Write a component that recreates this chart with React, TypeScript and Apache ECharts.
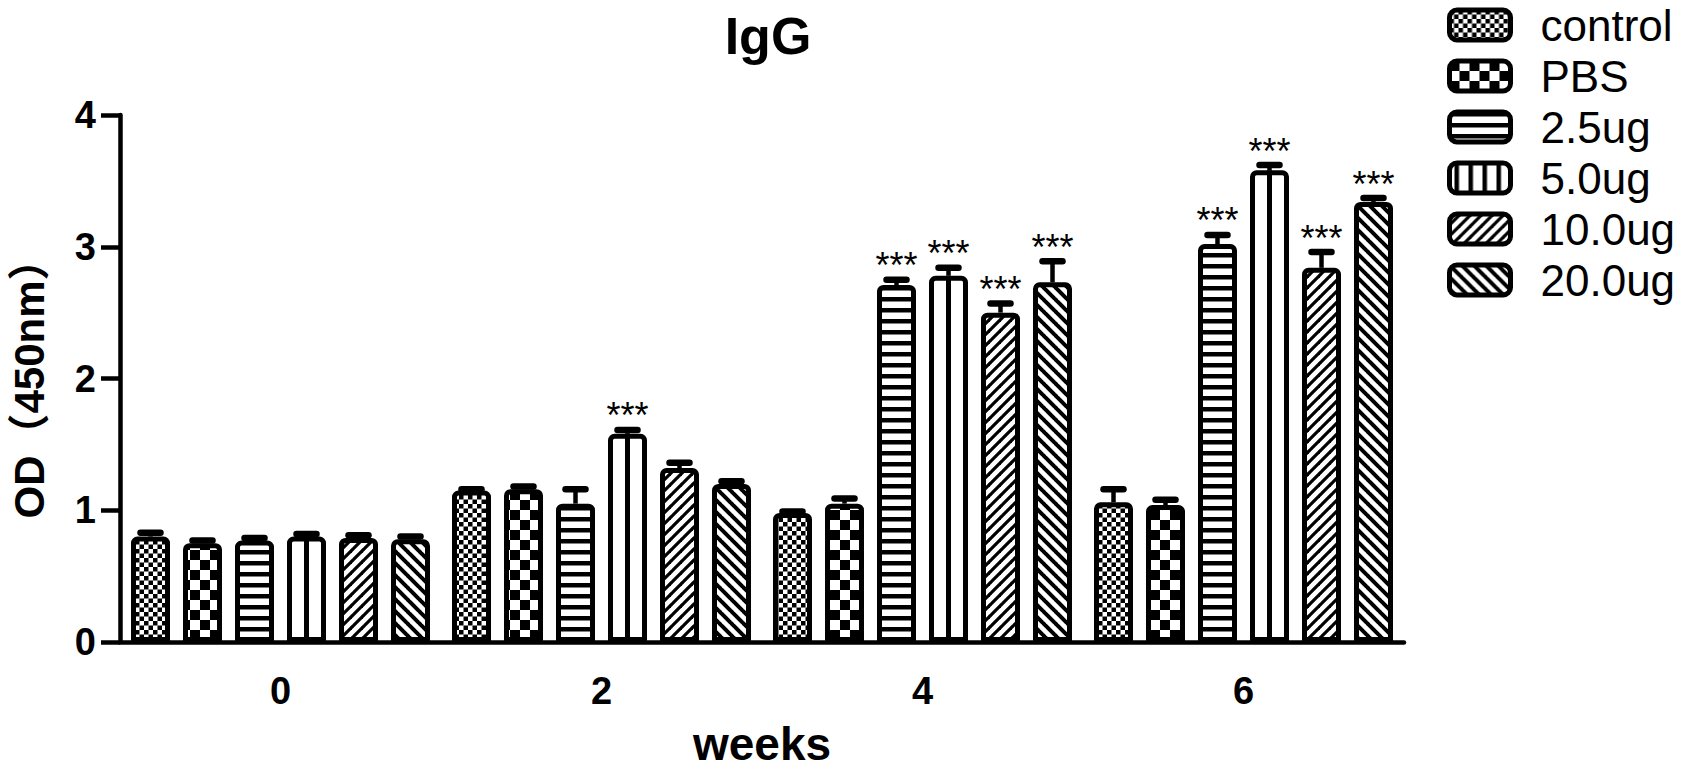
import React, { useEffect, useRef } from "react";
import * as echarts from "echarts";

const categories = ["0", "2", "4", "6"];
const seriesNames = ["control", "PBS", "2.5ug", "5.0ug", "10.0ug", "20.0ug"];
const controlVals = [0.8, 1.15, 0.98, 1.06];
const pbsVals = [0.75, 1.16, 1.05, 1.04];
const ug25Vals = [0.77, 1.05, 2.71, 3.02];
const ug50Vals = [0.8, 1.58, 2.78, 3.58];
const ug100Vals = [0.79, 1.32, 2.5, 2.84];
const ug200Vals = [0.78, 1.2, 2.73, 3.34];
const controlErr = [0.03, 0.01, 0.01, 0.1];
const pbsErr = [0.02, 0.02, 0.04, 0.04];
const ug25Err = [0.02, 0.11, 0.04, 0.07];
const ug50Err = [0.02, 0.03, 0.06, 0.04];
const ug100Err = [0.02, 0.04, 0.07, 0.12];
const ug200Err = [0.02, 0.02, 0.16, 0.03];
const ug25Stars = ["", "", "***", "***"];
const ug50Stars = ["", "***", "***", "***"];
const ug100Stars = ["", "", "***", "***"];
const ug200Stars = ["", "", "***", "***"];
const yTicks = [0, 1, 2, 3, 4];

const allVals = [controlVals, pbsVals, ug25Vals, ug50Vals, ug100Vals, ug200Vals];
const allErr = [controlErr, pbsErr, ug25Err, ug50Err, ug100Err, ug200Err];
const allStars = [["", "", "", ""], ["", "", "", ""], ug25Stars, ug50Stars, ug100Stars, ug200Stars];

const W = 1692;
const H = 772;
const GRID_LEFT = 96;
const BAND = 327;
const BAR_W = 39;
const BAR_STEP = 52;
const LEG_LEFT = 1447;
const LEG_ICON_W = 61;
const VERT_SERIES = 3;
const FONT = "'Liberation Sans', Arial, 'Noto Sans CJK SC', sans-serif";

function makeCanvas(w: number, h: number, draw: (ctx: CanvasRenderingContext2D) => void) {
  const c = document.createElement("canvas");
  c.width = w;
  c.height = h;
  const ctx = c.getContext("2d")!;
  ctx.fillStyle = "#fff";
  ctx.fillRect(0, 0, w, h);
  ctx.fillStyle = "#000";
  ctx.strokeStyle = "#000";
  draw(ctx);
  return c;
}

function pattern(c: HTMLCanvasElement): any {
  return { image: c, repeat: "repeat", imageWidth: c.width, imageHeight: c.height };
}

function buildPatterns(forLegend: boolean) {
  const small = makeCanvas(9, 9, (ctx) => {
    ctx.fillRect(0, 0, 4.5, 4.5);
    ctx.fillRect(4.5, 4.5, 4.5, 4.5);
  });
  const big = makeCanvas(20, 20, (ctx) => {
    ctx.fillRect(0, 0, 10, 10);
    ctx.fillRect(10, 10, 10, 10);
  });
  const horiz = makeCanvas(4, 11, (ctx) => {
    ctx.fillRect(0, 0, 4, 4.5);
  });
  const vert: any = forLegend
    ? pattern(
        makeCanvas(14, 4, (ctx) => {
          ctx.fillRect(5, 0, 4.5, 4);
        })
      )
    : "#fff";
  const fwd = makeCanvas(11, 11, (ctx) => {
    ctx.lineWidth = 3.2;
    for (const d of [-11, 0, 11]) {
      ctx.beginPath();
      ctx.moveTo(d - 1, 12);
      ctx.lineTo(d + 12, -1);
      ctx.stroke();
    }
  });
  const back = makeCanvas(12, 12, (ctx) => {
    ctx.lineWidth = 4;
    for (const d of [-12, 0, 12]) {
      ctx.beginPath();
      ctx.moveTo(d - 1, -1);
      ctx.lineTo(d + 13, 13);
      ctx.stroke();
    }
  });
  const list: any[] = [small, big, horiz, null, fwd, back].map((c) => (c ? pattern(c) : null));
  list[3] = vert;
  return list;
}

export default function App() {
  const ref = useRef<HTMLDivElement>(null);
  useEffect(() => {
    if (!ref.current) return;
    const chart = echarts.init(ref.current, null, { renderer: "svg" });
    const pats = buildPatterns(false);
    const legPats = buildPatterns(true);

    const barSeries = seriesNames.map((name, i) => ({
      name,
      type: "bar",
      data: allVals[i],
      barWidth: BAR_W,
      barGap: "33.3333%",
      itemStyle: {
        color: pats[i],
        borderColor: "#000",
        borderWidth: 5,
        borderRadius: [4, 4, 0, 0],
      },
      emphasis: { disabled: true },
      z: 2,
    }));

    const errData: any[] = [];
    allVals.forEach((vals, s) => {
      vals.forEach((v, k) => {
        errData.push([k, v, allErr[s][k], s, allStars[s][k]]);
      });
    });

    const errSeries = {
      type: "custom",
      data: errData,
      z: 5,
      silent: true,
      encode: { x: 0, y: 1 },
      renderItem: (params: any, api: any) => {
        const k = api.value(0);
        const v = api.value(1);
        const e = api.value(2);
        const s = api.value(3);
        const star = errData[params.dataIndex][4];
        const p = api.coord([k, v]);
        const t = api.coord([k, v + e]);
        const b = api.coord([k, 0]);
        const x = p[0] + (s - 2.5) * BAR_STEP;
        const children: any[] = [];
        if (s === VERT_SERIES) {
          children.push({
            type: "line",
            shape: { x1: x, y1: b[1], x2: x, y2: p[1] },
            style: { stroke: "#000", lineWidth: 5 },
          });
        }
        children.push(
          {
            type: "line",
            shape: { x1: x, y1: p[1], x2: x, y2: t[1] },
            style: { stroke: "#000", lineWidth: 4.5 },
          },
          {
            type: "line",
            shape: { x1: x - 10, y1: t[1], x2: x + 10, y2: t[1] },
            style: { stroke: "#000", lineWidth: 6.5, lineCap: "round" },
          }
        );
        if (star) {
          children.push({
            type: "text",
            x,
            y: t[1] - 14,
            style: {
              text: star,
              fill: "#000",
              font: `36px ${FONT}`,
              align: "center",
              verticalAlign: "middle",
            },
          });
        }
        return { type: "group", children };
      },
    };

    chart.setOption({
      animation: false,
      backgroundColor: "#fff",
      title: {
        text: "IgG",
        left: 768,
        textAlign: "center",
        top: 10,
        padding: 0,
        textStyle: { fontFamily: FONT, fontWeight: "bold", fontSize: 52, color: "#000" },
      },
      legend: {
        data: seriesNames.map((name, i) => ({ name, itemStyle: { color: legPats[i] } })),
        orient: "vertical",
        left: LEG_LEFT,
        top: 3,
        padding: 0,
        itemWidth: LEG_ICON_W,
        itemHeight: 30,
        itemGap: 7,
        icon: "roundRect",
        selectedMode: false,
        itemStyle: { borderColor: "#000", borderWidth: 5 },
        textStyle: {
          fontFamily: FONT,
          fontSize: 44,
          lineHeight: 44,
          color: "#000",
          padding: [0, 0, 0, 25],
        },
      },
      grid: {
        left: GRID_LEFT,
        right: W - GRID_LEFT - BAND * categories.length,
        top: 115,
        bottom: H - 655,
        containLabel: false,
      },
      xAxis: {
        type: "category",
        data: categories,
        name: "weeks",
        nameLocation: "middle",
        nameGap: 79,
        nameTextStyle: { fontFamily: FONT, fontWeight: "bold", fontSize: 46, color: "#000" },
        axisLine: { lineStyle: { color: "#000", width: 4.5 } },
        axisTick: { alignWithLabel: true, length: 18, lineStyle: { color: "#000", width: 4.5 } },
        axisLabel: { fontFamily: FONT, fontWeight: "bold", fontSize: 38, color: "#000", margin: 30 },
        splitLine: { show: false },
        z: 10,
      },
      yAxis: {
        type: "value",
        min: yTicks[0],
        max: yTicks[yTicks.length - 1],
        interval: 1,
        name: "OD（450nm）",
        nameLocation: "middle",
        nameGap: 70,
        nameRotate: 90,
        nameTextStyle: { fontFamily: FONT, fontWeight: "bold", fontSize: 42, color: "#000" },
        axisLine: { show: true, lineStyle: { color: "#000", width: 4.5 } },
        axisTick: { show: true, length: 19, lineStyle: { color: "#000", width: 4.5 } },
        axisLabel: { fontFamily: FONT, fontWeight: "bold", fontSize: 38, color: "#000", margin: 24 },
        splitLine: { show: false },
        z: 10,
      },
      series: [...barSeries, errSeries],
    });
    return () => chart.dispose();
  }, []);
  return (
    <div
      ref={ref}
      style={{ position: "absolute", left: 0, top: 0, width: W, height: H }}
    />
  );
}
